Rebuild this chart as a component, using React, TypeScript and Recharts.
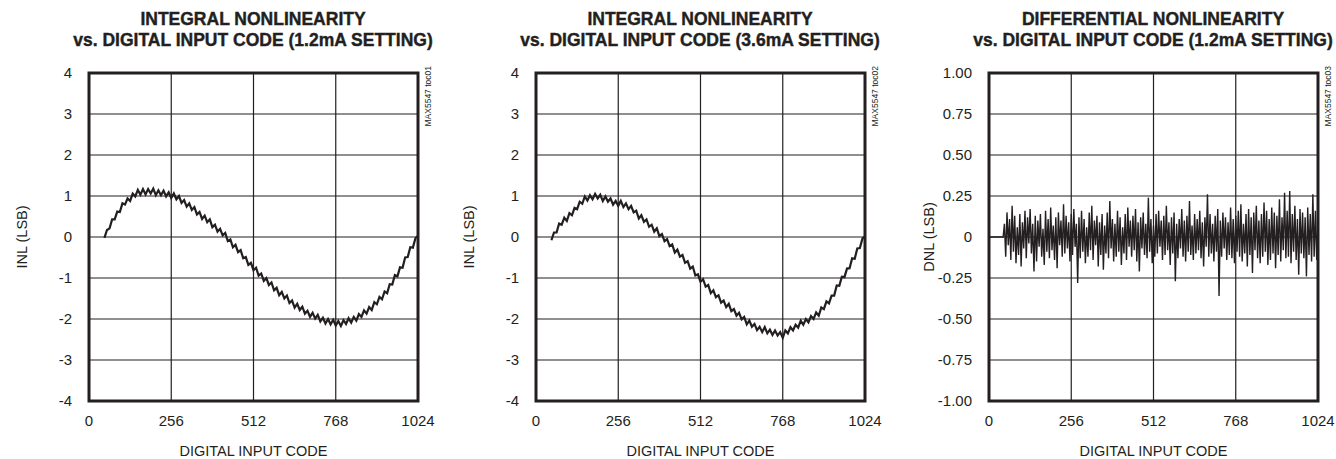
import React from "react";
import {
  LineChart,
  Line,
  XAxis,
  YAxis,
  CartesianGrid,
  ReferenceArea,
} from "recharts";

// INL sampled every 8 codes from code 48 to 1024
const INL_CODE_START = 48;
const INL_CODE_STEP = 8;

const inl12mA = [
  -0.02, 0.17, 0.21, 0.43, 0.43, 0.62, 0.61, 0.82, 0.79, 0.94,
  0.88, 1.06, 0.99, 1.15, 1.03, 1.17, 1.04, 1.17, 1.06, 1.18,
  1.02, 1.14, 1.02, 1.13, 0.99, 1.09, 0.95, 1.06, 0.92, 1.0,
  0.83, 0.9, 0.74, 0.82, 0.66, 0.73, 0.55, 0.61, 0.44, 0.52,
  0.36, 0.43, 0.24, 0.3, 0.13, 0.2, 0.04, 0.1, -0.1, -0.06,
  -0.25, -0.19, -0.37, -0.32, -0.52, -0.49, -0.68, -0.63, -0.81, -0.75,
  -0.94, -0.89, -1.07, -1.0, -1.17, -1.11, -1.3, -1.24, -1.42, -1.34,
  -1.5, -1.43, -1.61, -1.55, -1.72, -1.63, -1.78, -1.7, -1.87, -1.8,
  -1.95, -1.85, -1.99, -1.9, -2.06, -1.97, -2.11, -2.0, -2.13, -2.02,
  -2.16, -2.05, -2.17, -2.03, -2.12, -1.98, -2.09, -1.95, -2.04, -1.88,
  -1.95, -1.79, -1.87, -1.71, -1.78, -1.59, -1.64, -1.46, -1.52, -1.33,
  -1.37, -1.15, -1.16, -0.93, -0.96, -0.74, -0.75, -0.5, -0.49, -0.25,
  -0.26, -0.03, 0.03,
];

const inl36mA = [
  -0.08, 0.11, 0.11, 0.33, 0.3, 0.47, 0.39, 0.58, 0.53, 0.71,
  0.68, 0.86, 0.81, 0.99, 0.89, 1.02, 0.92, 1.05, 0.94, 1.03,
  0.88, 0.99, 0.86, 0.94, 0.79, 0.88, 0.76, 0.88, 0.73, 0.82,
  0.68, 0.76, 0.6, 0.64, 0.45, 0.53, 0.37, 0.43, 0.25, 0.3,
  0.13, 0.21, 0.02, 0.07, -0.1, -0.05, -0.22, -0.18, -0.38, -0.31,
  -0.48, -0.44, -0.63, -0.59, -0.77, -0.72, -0.94, -0.91, -1.09, -1.03,
  -1.21, -1.17, -1.37, -1.3, -1.47, -1.42, -1.6, -1.55, -1.71, -1.63,
  -1.81, -1.76, -1.92, -1.85, -2.01, -1.95, -2.13, -2.04, -2.19, -2.12,
  -2.27, -2.19, -2.32, -2.2, -2.35, -2.26, -2.39, -2.28, -2.4, -2.32,
  -2.46, -2.28, -2.35, -2.2, -2.28, -2.14, -2.21, -2.04, -2.14, -2.0,
  -2.08, -1.93, -2.0, -1.84, -1.92, -1.72, -1.76, -1.57, -1.62, -1.43,
  -1.43, -1.18, -1.19, -0.97, -0.98, -0.77, -0.76, -0.52, -0.53, -0.28,
  -0.27, -0.04, 0.02,
];

// DNL sampled every 4 codes from code 48 to 1024, flat 0 before that
const DNL_CODE_START = 48;
const DNL_CODE_STEP = 4;
const dnlLeadIn = [0, 0];
const dnlLeadCodes = [0, 44];

const dnl12mA = [
  0.08, -0.12, 0.15, -0.05, 0.11, -0.14, 0.19, -0.09, 0.13, -0.16,
  0.06, -0.11, 0.14, -0.18, 0.09, -0.07, 0.16, -0.13, 0.12, -0.04,
  0.17, -0.1, 0.08, -0.21, 0.13, -0.15, 0.1, -0.06, 0.14, -0.12,
  0.05, -0.17, 0.16, -0.09, 0.11, -0.13, 0.18, -0.08, 0.07, -0.14,
  0.12, -0.19, 0.15, -0.05, 0.1, -0.12, 0.2, -0.1, 0.13, -0.07,
  0.09, -0.15, 0.14, -0.11, 0.17, -0.06, 0.08, -0.28, 0.12, -0.13,
  0.16, -0.09, 0.11, -0.16, 0.06, -0.12, 0.15, -0.08, 0.19, -0.14,
  0.1, -0.05, 0.13, -0.18, 0.09, -0.11, 0.14, -0.2, 0.07, -0.1,
  0.15, -0.13, 0.22, -0.07, 0.11, -0.15, 0.08, -0.12, 0.16, -0.09,
  0.12, -0.17, 0.06, -0.1, 0.14, -0.14, 0.18, -0.06, 0.1, -0.12,
  0.13, -0.08, 0.17, -0.15, 0.09, -0.21, 0.12, -0.07, 0.15, -0.11,
  0.08, -0.13, 0.24, -0.09, 0.11, -0.16, 0.07, -0.12, 0.14, -0.1,
  0.16, -0.06, 0.1, -0.14, 0.13, -0.11, 0.19, -0.08, 0.09, -0.17,
  0.12, -0.1, 0.15, -0.27, 0.08, -0.13, 0.11, -0.07, 0.17, -0.12,
  0.1, -0.15, 0.13, -0.09, 0.22, -0.11, 0.07, -0.14, 0.14, -0.1,
  0.11, -0.08, 0.16, -0.13, 0.09, -0.18, 0.12, -0.06, 0.26, -0.12,
  0.14, -0.1, 0.08, -0.15, 0.13, -0.09, 0.17, -0.36, 0.1, -0.12,
  0.15, -0.07, 0.12, -0.14, 0.09, -0.11, 0.18, -0.13, 0.11, -0.16,
  0.13, -0.09, 0.16, -0.12, 0.2, -0.15, 0.08, -0.1, 0.14, -0.18,
  0.17, -0.11, 0.12, -0.22, 0.15, -0.08, 0.19, -0.13, 0.1, -0.16,
  0.14, -0.12, 0.21, -0.09, 0.16, -0.17, 0.11, -0.14, 0.18, -0.1,
  0.15, -0.19, 0.13, -0.11, 0.23, -0.15, 0.12, -0.08, 0.27, -0.13,
  0.16, -0.12, 0.28, -0.16, 0.14, -0.09, 0.19, -0.14, 0.11, -0.23,
  0.17, -0.1, 0.15, -0.13, 0.12, -0.24, 0.18, -0.11, 0.14, -0.15,
  0.26, -0.12, 0.16, -0.14, 0.1,
];

const codeTicks = [0, 256, 512, 768, 1024];
const inlTicks = [-4, -3, -2, -1, 0, 1, 2, 3, 4];
const dnlTicks = [-1, -0.75, -0.5, -0.25, 0, 0.25, 0.5, 0.75, 1];

const INK = "#231f20";
const FONT = '"Liberation Sans", Arial, sans-serif';

const toRows = (values: number[], start: number, step: number) =>
  values.map((v, i) => ({ code: start + i * step, value: v }));

const inl1Rows = toRows(inl12mA, INL_CODE_START, INL_CODE_STEP);
const inl2Rows = toRows(inl36mA, INL_CODE_START, INL_CODE_STEP);
const dnlRows = [
  ...dnlLeadIn.map((v, i) => ({ code: dnlLeadCodes[i], value: v })),
  ...toRows(dnl12mA, DNL_CODE_START, DNL_CODE_STEP),
];

function YTitle(props: any) {
  const { viewBox, text, lx } = props;
  const cy = viewBox ? viewBox.y + viewBox.height / 2 : 237;
  return (
    <text
      x={lx}
      y={cy}
      transform={`rotate(-90 ${lx} ${cy})`}
      textAnchor="middle"
      dominantBaseline="central"
      fontFamily={FONT}
      fontSize={14.5}
      fill={INK}
    >
      {text}
    </text>
  );
}

type PanelProps = {
  left: number;
  width: number;
  title: [string, string];
  rows: { code: number; value: number }[];
  yTicks: number[];
  yLabel: string;
  yLabelX: number;
  note: string;
  fmt: (v: number) => string;
  lineWidth: number;
};

function Panel({ left, width, title, rows, yTicks, yLabel, yLabelX, note, fmt, lineWidth }: PanelProps) {
  const yMin = yTicks[0];
  const yMax = yTicks[yTicks.length - 1];
  return (
    <div style={{ position: "absolute", left, top: 0, width, height: 459 }}>
      <div
        style={{
          position: "absolute",
          left: 89 + 164 - 250,
          width: 500,
          top: 9,
          textAlign: "center",
          fontFamily: FONT,
          fontWeight: 700,
          fontSize: 17.5,
          lineHeight: "21px",
          color: INK,
          whiteSpace: "nowrap",
          WebkitTextStroke: "0.4px " + INK,
        }}
      >
        <div>{title[0]}</div>
        <div>{title[1]}</div>
      </div>
      <LineChart
        width={width}
        height={459}
        data={rows}
        margin={{ top: 73, right: width - 418, left: 29, bottom: 1 }}
        style={{ position: "absolute", left: 0, top: 0 }}
      >
        <CartesianGrid stroke={INK} strokeWidth={1.2} fill="none" />
        <XAxis
          dataKey="code"
          type="number"
          domain={[0, 1024]}
          ticks={codeTicks}
          interval={0}
          axisLine={false}
          tickLine={false}
          tickSize={0}
          tickMargin={14}
          height={57}
          tick={{ fill: INK, fontSize: 15, fontFamily: FONT }}
          label={{
            value: "DIGITAL INPUT CODE",
            position: "insideBottom",
            offset: 2,
            fill: INK,
            fontSize: 14.5,
            fontFamily: FONT,
          }}
        />
        <YAxis
          type="number"
          domain={[yMin, yMax]}
          ticks={yTicks}
          interval={0}
          axisLine={false}
          tickLine={false}
          tickSize={0}
          tickMargin={17}
          width={60}
          tickFormatter={fmt}
          tick={{ fill: INK, fontSize: 15, fontFamily: FONT }}
          label={<YTitle text={yLabel} lx={yLabelX} />}
        />
        <ReferenceArea
          x1={0}
          x2={1024}
          y1={yMin}
          y2={yMax}
          stroke={INK}
          strokeWidth={3}
          fill="none"
          fillOpacity={0}
          ifOverflow="visible"
        />
        <Line
          dataKey="value"
          type="linear"
          stroke={INK}
          strokeWidth={lineWidth}
          dot={false}
          isAnimationActive={false}
        />
        <text
          x={428}
          y={66}
          transform="rotate(-90 428 66)"
          textAnchor="end"
          dominantBaseline="central"
          fontFamily={FONT}
          fontSize={8.5}
          fill={INK}
        >
          {note}
        </text>
      </LineChart>
    </div>
  );
}

export default function App() {
  const intFmt = (v: number) => String(v);
  const dnlFmt = (v: number) => (v === 0 ? "0" : v.toFixed(2));
  return (
    <div
      style={{
        position: "absolute",
        left: 0,
        top: 0,
        width: 1336,
        height: 459,
        overflow: "hidden",
        background: "#fff",
      }}
    >
      <Panel
        left={0}
        width={440}
        title={["INTEGRAL NONLINEARITY", "vs. DIGITAL INPUT CODE (1.2mA SETTING)"]}
        rows={inl1Rows}
        yTicks={inlTicks}
        yLabel="INL (LSB)"
        yLabelX={22}
        note="MAX5547 toc01"
        fmt={intFmt}
        lineWidth={2.2}
      />
      <Panel
        left={447}
        width={440}
        title={["INTEGRAL NONLINEARITY", "vs. DIGITAL INPUT CODE (3.6mA SETTING)"]}
        rows={inl2Rows}
        yTicks={inlTicks}
        yLabel="INL (LSB)"
        yLabelX={22}
        note="MAX5547 toc02"
        fmt={intFmt}
        lineWidth={2.2}
      />
      <Panel
        left={900}
        width={436}
        title={["DIFFERENTIAL NONLINEARITY", "vs. DIGITAL INPUT CODE (1.2mA SETTING)"]}
        rows={dnlRows}
        yTicks={dnlTicks}
        yLabel="DNL (LSB)"
        yLabelX={29}
        note="MAX5547 toc03"
        fmt={dnlFmt}
        lineWidth={1.4}
      />
    </div>
  );
}
